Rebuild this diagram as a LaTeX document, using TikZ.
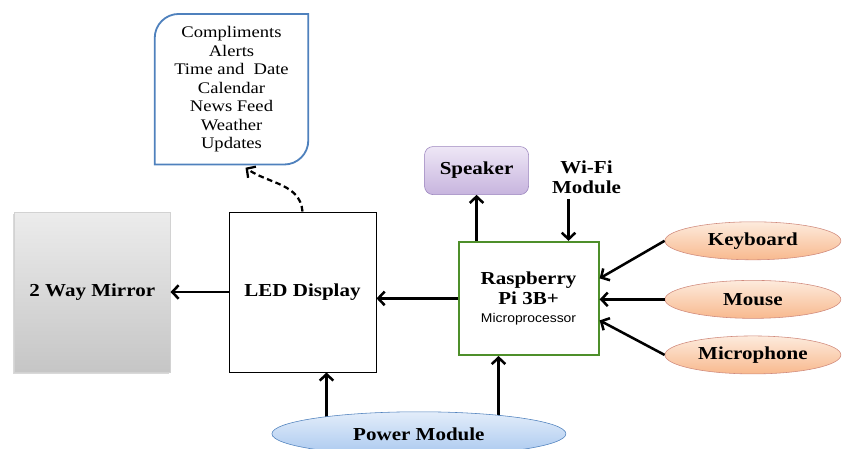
\documentclass[tikz,border=0pt]{standalone}
\usepackage{fontspec}
\setmainfont[FakeStretch=1.15]{Liberation Serif}
\setsansfont[FakeStretch=1.1]{Liberation Sans}
\usetikzlibrary{arrows.meta,positioning,shapes.geometric,shadows,backgrounds}

\definecolor{noteblue}{HTML}{4F81BD}
\definecolor{cpugreen}{HTML}{4E8F2A}
\definecolor{spkline}{HTML}{9B85BE}
\definecolor{spktop}{HTML}{EEE7F6}
\definecolor{spkbot}{HTML}{C7B4DE}
\definecolor{peachline}{HTML}{D08A7C}
\definecolor{peachtop}{HTML}{FDEBDD}
\definecolor{peachbot}{HTML}{F8B98E}
\definecolor{powtop}{HTML}{E3EDFA}
\definecolor{powbot}{HTML}{A9C8EF}

\begin{document}
\begin{tikzpicture}[
  node distance=1.0cm and 1.2cm,
  btext/.style={font=\fontsize{13}{14}\selectfont\bfseries, align=center},
  block/.style={rectangle, draw, line width=0.7pt, btext,
              minimum width=3.675cm, minimum height=4cm},
  mirror/.style={rectangle, draw=gray!35, top color=gray!15, bottom color=gray!45,
              drop shadow={shadow xshift=-0.04cm, shadow yshift=-0.04cm, opacity=0.3},
              btext, minimum width=3.9cm, minimum height=4cm},
  cpu/.style={rectangle, draw=cpugreen, line width=1.5pt, btext,
              minimum width=3.5cm, minimum height=2.825cm},
  speakerbox/.style={rectangle, rounded corners=6pt, draw=spkline, top color=spktop,
              bottom color=spkbot, btext, minimum width=2.6cm, minimum height=1.2cm},
  periph/.style={ellipse, draw=peachline, top color=peachtop, bottom color=peachbot,
              inner sep=0pt, btext, minimum width=4.4cm, minimum height=0.95cm},
  supply/.style={ellipse, draw=noteblue, top color=powtop, bottom color=powbot,
              inner sep=0pt, btext, minimum width=7.35cm, minimum height=1.1cm},
  note/.style={rectangle, align=center, font=\fontsize{11.5}{13.2}\selectfont,
              minimum width=3.825cm, minimum height=3.75cm},
  noteline/.style={draw=noteblue, line width=1.3pt},
  arr/.style={-{Straight Barb[length=1.6mm, width=3.4mm]}, line width=1.8pt},
  dasharr/.style={arr, line width=1.6pt, dash pattern=on 4pt off 2.5pt}
]
\path[use as bounding box, clip] (0,0) rectangle (21.2,-11.2);

\node[block] (led) at (7.5625,-7.3) {LED Display};
\node[mirror, left=1.45cm of led] (mirror) {2 Way Mirror};
\node[cpu, right=2.025cm of led, yshift=-0.16cm] (pi)
  {Raspberry\\Pi 3B+\\[-1pt]{\sffamily\mdseries\fontsize{9}{11}\selectfont Microprocessor}};
\node[speakerbox, above=1.15cm of pi, xshift=-1.3cm] (speaker) {Speaker};
\node[btext, above=1.05cm of pi, xshift=1.45cm] (wifi) {Wi-Fi\\Module};

\node[periph, right=1.625cm of pi, yshift=1.44cm] (keyboard) {Keyboard};
\node[periph, below=0.5cm of keyboard] (mouse) {Mouse};
\node[periph, below=0.425cm of mouse] (mic) {Microphone};

\node[supply, below=0.975cm of led, xshift=2.91cm] (power) {Power Module};

% notification panel shown on the mirror
\node[note, above=1.175cm of led, xshift=-1.775cm] (info)
  {Compliments\\Alerts\\Time and\ \ Date\\Calendar\\News Feed\\Weather\\Updates};
\draw[noteline] (info.south west) -- ([yshift=-0.6cm]info.north west)
  arc[start angle=180, end angle=90, radius=0.6cm] -- (info.north east)
  -- ([yshift=0.6cm]info.south east)
  arc[start angle=0, end angle=-90, radius=0.6cm] -- cycle;
\coordinate (infoin) at ([xshift=0.35cm, yshift=-0.08cm]info.south);
\draw[dasharr] (led.north) to[out=95, in=-35] (infoin);

\draw[arr] (led.west) -- (mirror.east);
\draw[arr] (pi.west) -- (pi.west -| led.east);
\draw[arr] (speaker.south |- pi.north) -- (speaker.south);
\coordinate (wifiin) at ([xshift=1cm]pi.north);
\draw[arr] (wifiin |- wifi.south) -- (wifiin);

\draw[arr] (keyboard.west) -- ([yshift=0.5cm]pi.east);
\draw[arr] (mouse.west) -- (mouse.west -| pi.east);
\draw[arr] (mic.west) -- ([yshift=-0.55cm]pi.east);

% supply lines start under the ellipse
\coordinate (ledin) at ([xshift=0.6cm]led.south);
\coordinate (piin) at ([xshift=-0.75cm]pi.south);
\begin{scope}[on background layer]
\draw[arr] (ledin |- power.center) -- (ledin);
\draw[arr] (piin |- power.center) -- (piin);
\end{scope}
\end{tikzpicture}
\end{document}
